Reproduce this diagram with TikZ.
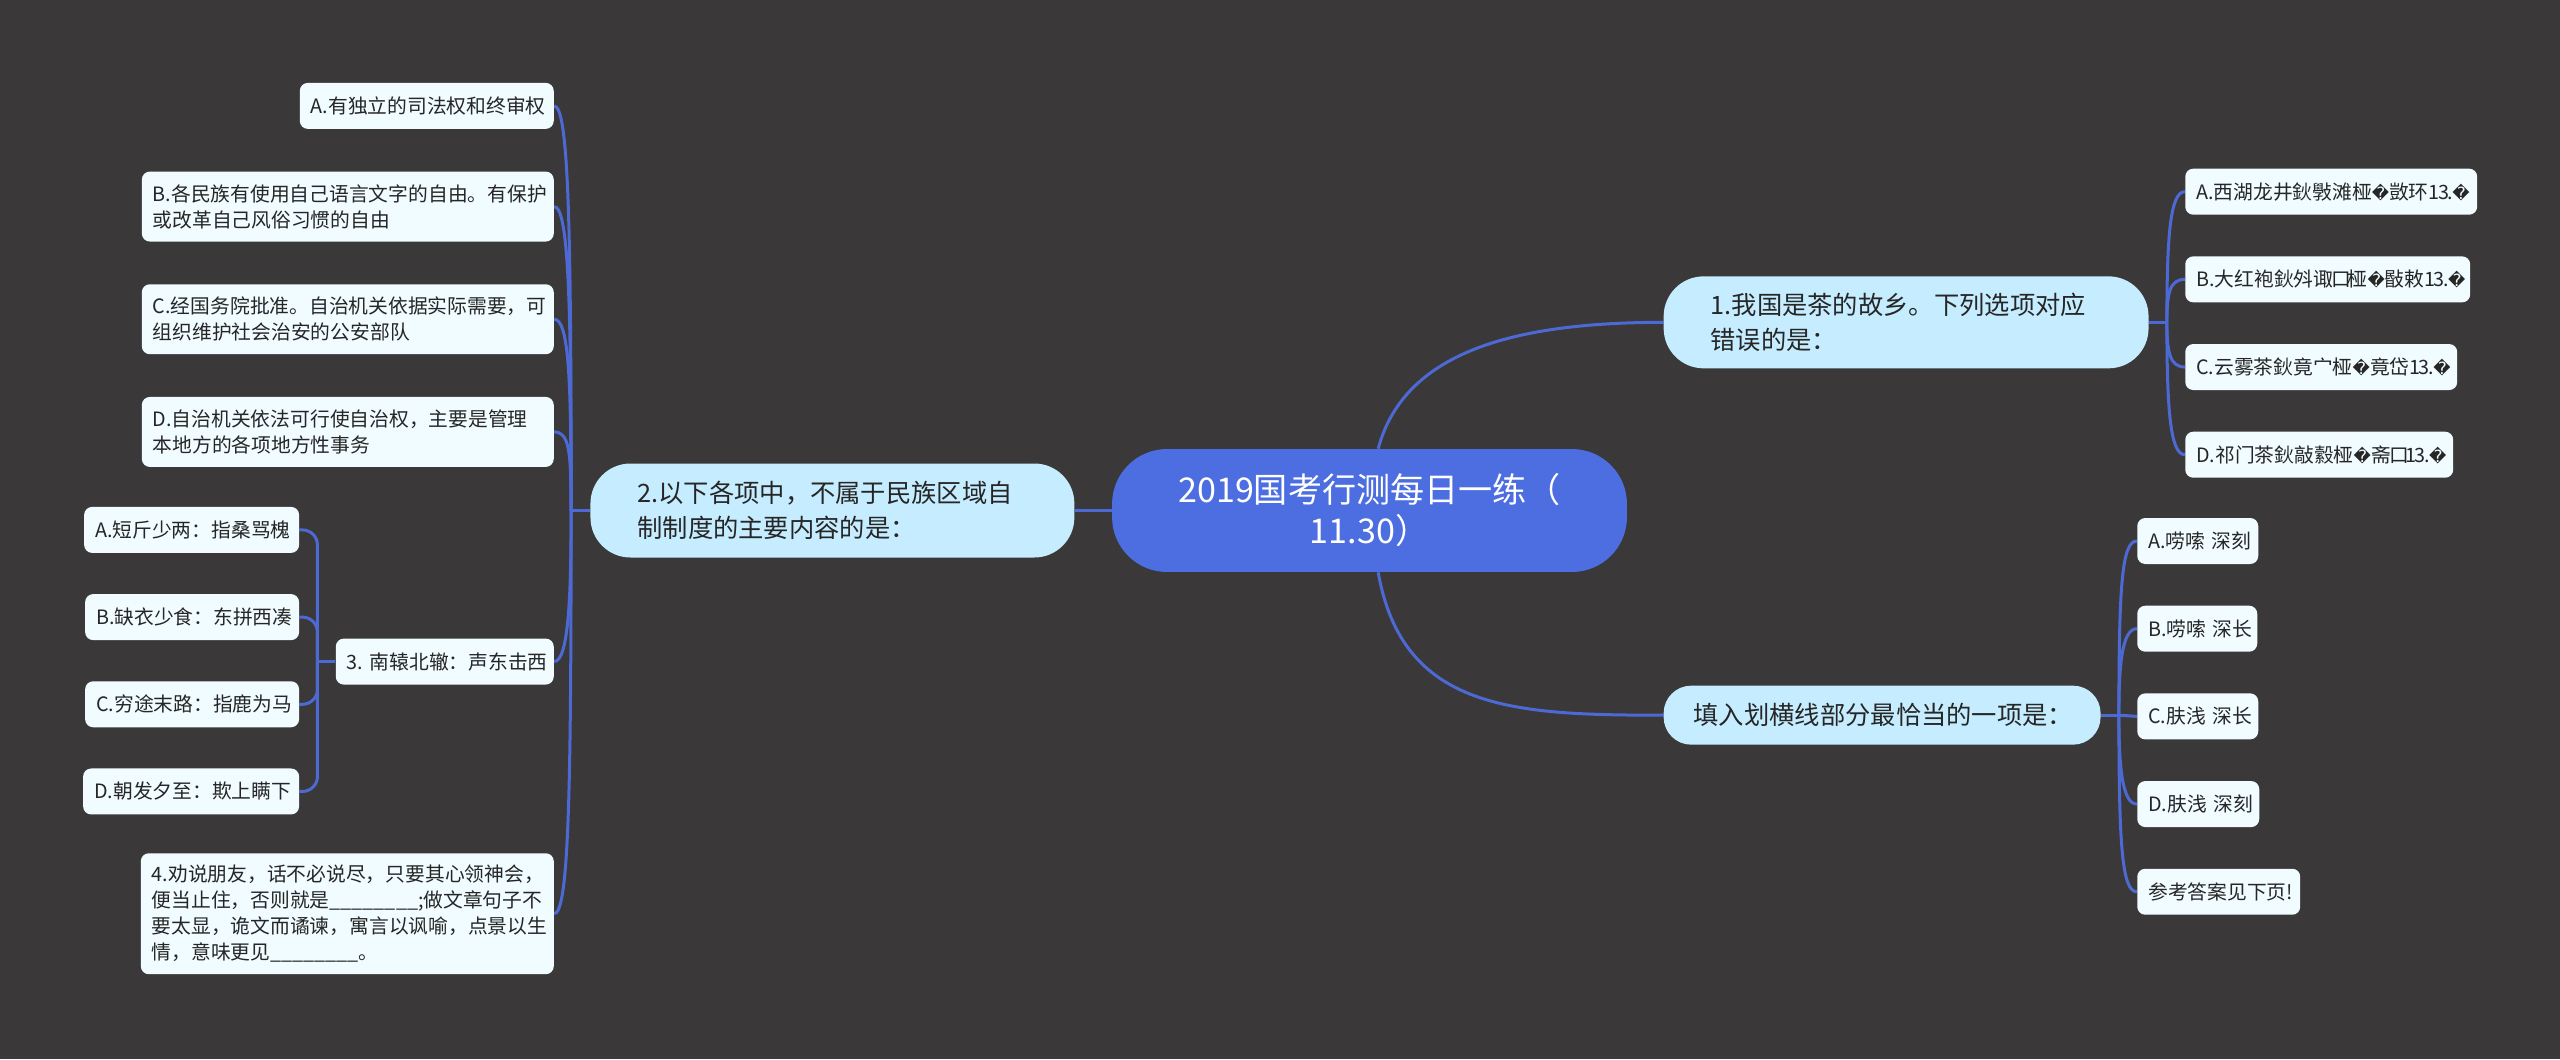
\documentclass[tikz,border=0pt]{standalone}
\usepackage{fontspec}
\setmainfont{Noto Sans CJK SC}
\newfontfamily\repfont{DejaVu Sans}
\usepackage{tikz}
\usetikzlibrary{positioning,calc,backgrounds}
\definecolor{mmback}{RGB}{58,56,57}
\definecolor{mmroot}{RGB}{77,110,224}
\definecolor{mmtopic}{RGB}{198,237,255}
\definecolor{mmleaf}{RGB}{240,252,255}
\definecolor{mmline}{RGB}{77,106,212}
\newcommand{\rep}{{\repfont\fontsize{9.6pt}{9.6pt}\selectfont\char"FFFD}}
\newcommand{\tailnum}{1\kern-0.9pt 3\kern-0.9pt .\kern-0.3pt\rep}
\newcommand{\boxglyph}{\kern-0.8pt 口\kern-2.2pt}
\tikzstyle{link} = [line width=0.06cm,color=mmline]
\tikzstyle{rootnode} = [rectangle, rounded corners=1.1cm, minimum width=10.3cm, minimum height=2.46cm, inner sep=0pt, align=center, text=white, fill=mmroot, font=\fontsize{19.4pt}{23.3pt}\selectfont]
\tikzstyle{topicnode} = [rectangle, rounded corners=0.8cm, minimum height=1.84cm, inner ysep=0pt, inner xsep=0.94cm, align=left, text=black!85, fill=mmtopic, font=\fontsize{14.4pt}{19.9pt}\selectfont]
\tikzstyle{leafnode} = [rectangle, rounded corners=0.16cm, minimum height=0.92cm, inner ysep=0pt, inner xsep=0.22cm, align=left, text=black!85, fill=mmleaf, font=\fontsize{11.25pt}{14.8pt}\selectfont]
\begin{document}
\begin{tikzpicture}[x=0.02cm, y=-0.02cm]
\useasboundingbox (0,0) rectangle (2560,1059);

% Root and topics
\node[rootnode] (root) at (1369.5,510.5) {2019国考行测每日一练（\\11.30）};
\node[topicnode, text width=7.82cm, above right=1.6cm and 0.72cm of root.north east] (topica) {1.我国是茶的故乡。下列选项对应\\错误的是：};
\node[topicnode, text width=7.8cm, left=0.74cm of root, minimum height=1.88cm] (topicb) {2.以下各项中，不属于民族区域自\\制制度的主要内容的是：};
\node[topicnode, text width=7.54cm, inner xsep=0.6cm, rounded corners=0.55cm, minimum height=1.18cm, below right=2.26cm and 0.72cm of root.south east] (topicd) {填入划横线部分最恰当的一项是：};

% Tea options
\node[leafnode, text width=5.4cm, above right=1.22cm and 0.72cm of topica.north east] (ta) {A.西湖龙井鈥斅滩桠\rep 敳环\tailnum};
\node[leafnode, text width=5.26cm, below=0.82cm of ta.south west, anchor=north west] (tb) {B.大红袍鈥斘诹\boxglyph 桠\rep 敯敕\tailnum};
\node[leafnode, text width=5cm, below=0.82cm of tb.south west, anchor=north west] (tc) {C.云雾茶鈥竟宀桠\rep 竟岱\tailnum};
\node[leafnode, text width=4.92cm, below=0.82cm of tc.south west, anchor=north west] (td) {D.祁门茶鈥敲縠桠\rep 斋\boxglyph\tailnum};

% Autonomy options
\node[leafnode, text width=4.64cm, above left=6.68cm and 0.72cm of topicb.north west] (aa) {A.有独立的司法权和终审权};
\node[leafnode, text width=7.8cm, minimum height=1.4cm, below=0.84cm of aa.south east, anchor=north east] (ab) {B.各民族有使用自己语言文字的自由。有保护\\或改革自己风俗习惯的自由};
\node[leafnode, text width=7.8cm, minimum height=1.4cm, below=0.84cm of ab.south east, anchor=north east] (ac) {C.经国务院批准。自治机关依据实际需要，可\\组织维护社会治安的公安部队};
\node[leafnode, text width=7.8cm, minimum height=1.4cm, below=0.84cm of ac.south east, anchor=north east] (ad) {D.自治机关依法可行使自治权，主要是管理\\本地方的各项地方性事务};
\node[leafnode, text width=3.92cm, below=3.42cm of ad.south east, anchor=north east] (ae) {3.~南辕北辙：声东击西};
\node[leafnode, text width=7.82cm, minimum height=2.42cm, below=3.36cm of ae.south east, anchor=north east] (af) {4.劝说朋友，话不必说尽，只要其心领神会，\\便当止住，否则就是\_\_\_\_\_\_\_\_;做文章句子不\\要太显，诡文而谲谏，寓言以讽喻，点景以生\\情，意味更见\_\_\_\_\_\_\_\_。};

% Idiom options
\node[leafnode, text width=3.86cm, above left=1.7cm and 0.72cm of ae.north west] (ea) {A.短斤少两：指桑骂槐};
\node[leafnode, text width=3.84cm, below=0.81cm of ea.south east, anchor=north east] (eb) {B.缺衣少食：东拼西凑};
\node[leafnode, text width=3.84cm, below=0.81cm of eb.south east, anchor=north east] (ec) {C.穷途末路：指鹿为马};
\node[leafnode, text width=3.88cm, below=0.81cm of ec.south east, anchor=north east] (ed) {D.朝发夕至：欺上瞒下};

% Word options
\node[leafnode, text width=1.98cm, above right=2.42cm and 0.72cm of topicd.north east] (wa) {A.唠嗦~深刻};
\node[leafnode, text width=1.96cm, below=0.82cm of wa.south west, anchor=north west] (wb) {B.唠嗦~深长};
\node[leafnode, text width=1.98cm, below=0.82cm of wb.south west, anchor=north west] (wc) {C.肤浅~深长};
\node[leafnode, text width=2cm, below=0.82cm of wc.south west, anchor=north west] (wd) {D.肤浅~深刻};
\node[leafnode, text width=2.82cm, below=0.82cm of wd.south west, anchor=north west] (we) {参考答案见下页!};

% Hubs
\coordinate[right=0.36cm of topica] (huba);
\coordinate[left=0.38cm of topicb] (hubb);
\coordinate[right=0.36cm of topicd] (hubd);
\coordinate[left=0.36cm of ae] (hube);

% Connectors
\begin{scope}[on background layer]
\fill[mmback] (0,0) rectangle (2560,1059);
\draw[link] (root.82) to[out=75, in=180, out distance=2cm, in distance=3cm] (topica.west);
\draw[link] (root.-82) to[out=-80, in=180, out distance=2.8cm, in distance=3cm] (topicd.west);
\draw[link] (root) -- (topicb);
\draw[link] (topica) -- (huba);
\draw[link] (topicb) -- (hubb);
\draw[link] (topicd) -- (hubd);
\draw[link] (ae) -- (hube);

\draw[link] (huba) to[out=90, in=180, out distance=1.7cm, in distance=0.3cm] (ta.west);
\draw[link] (huba) to[out=90, in=180, out distance=0.6cm, in distance=0.3cm] (tb.west);
\draw[link] (huba) to[out=-90, in=180, out distance=0.6cm, in distance=0.3cm] (tc.west);
\draw[link] (huba) to[out=-90, in=180, out distance=1.7cm, in distance=0.3cm] (td.west);

\draw[link] (hubb) to[out=90, in=0, out distance=5.5cm, in distance=0.3cm] (aa.east);
\draw[link] (hubb) to[out=90, in=0, out distance=4cm, in distance=0.3cm] (ab.east);
\draw[link] (hubb) to[out=90, in=0, out distance=2.6cm, in distance=0.3cm] (ac.east);
\draw[link] (hubb) to[out=90, in=0, out distance=1.2cm, in distance=0.3cm] (ad.east);
\draw[link] (hubb) to[out=-90, in=0, out distance=1.6cm, in distance=0.3cm] (ae.east);
\draw[link] (hubb) to[out=-90, in=0, out distance=5.5cm, in distance=0.3cm] (af.east);

\draw[link, rounded corners=0.3cm] (hube) |- (ea.east);
\draw[link, rounded corners=0.3cm] (hube) |- (eb.east);
\draw[link, rounded corners=0.3cm] (hube) |- (ec.east);
\draw[link, rounded corners=0.3cm] (hube) |- (ed.east);

\draw[link] (hubd) to[out=90, in=180, out distance=2.6cm, in distance=0.3cm] (wa.west);
\draw[link] (hubd) to[out=90, in=180, out distance=1cm, in distance=0.3cm] (wb.west);
\draw[link] (hubd) -- (wc.west);
\draw[link] (hubd) to[out=-90, in=180, out distance=1cm, in distance=0.3cm] (wd.west);
\draw[link] (hubd) to[out=-90, in=180, out distance=2.6cm, in distance=0.3cm] (we.west);
\end{scope}
\end{tikzpicture}
\end{document}
